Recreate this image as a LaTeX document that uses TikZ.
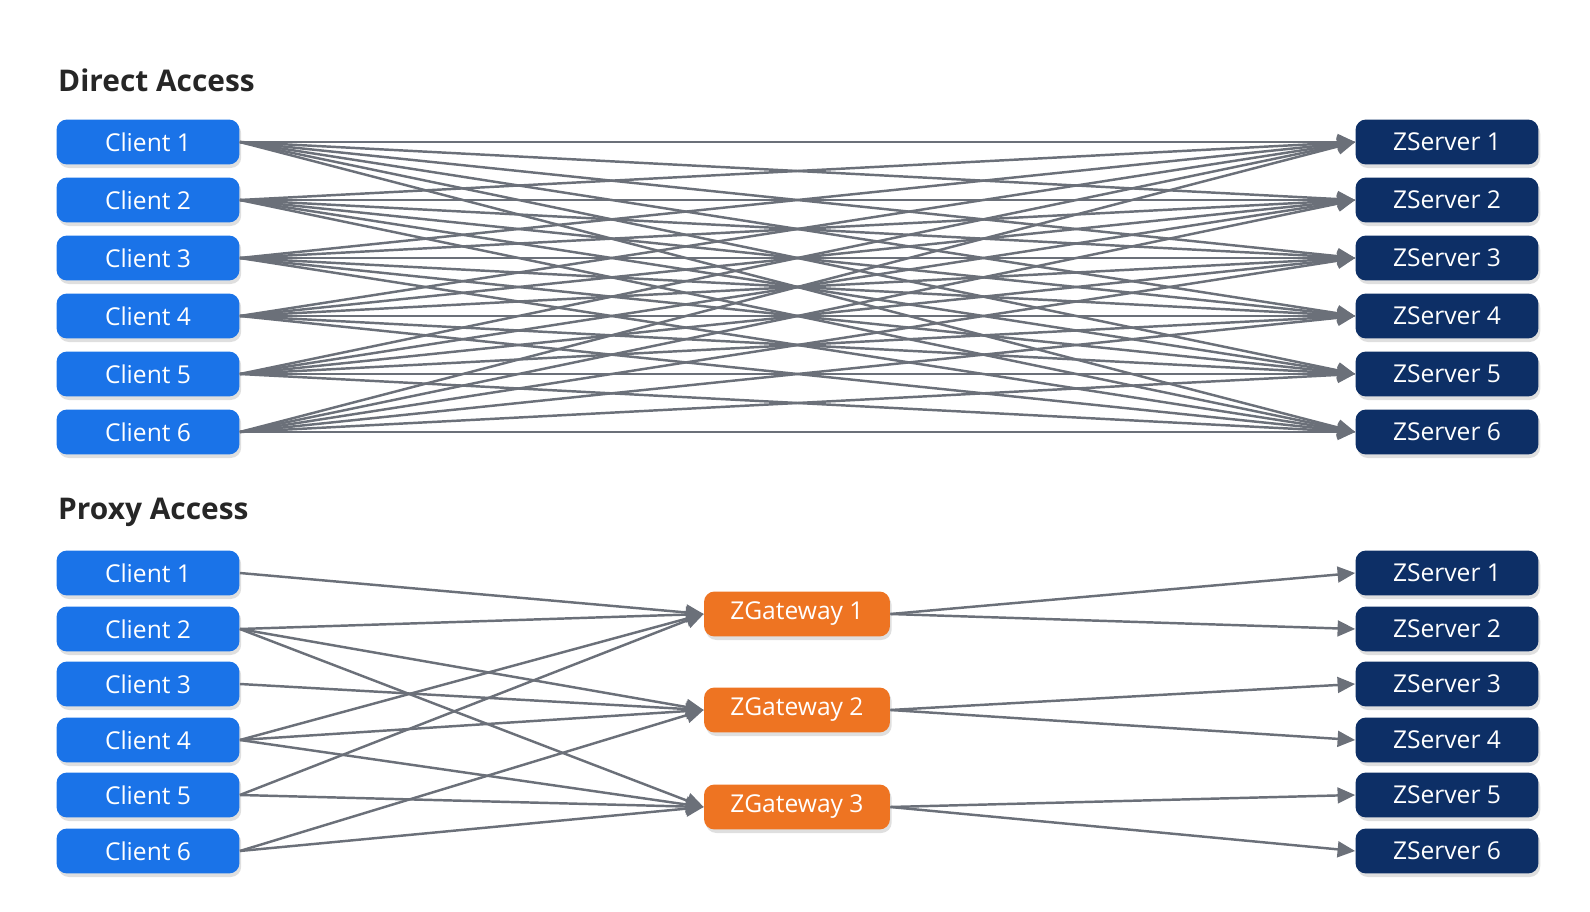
\documentclass[tikz,border=0pt]{standalone}
\usepackage{fontspec}
\setmainfont{Open Sans}
\usetikzlibrary{arrows.meta,shadows}
\definecolor{clientblue}{HTML}{1A73E8}
\definecolor{servernavy}{HTML}{0D2F66}
\definecolor{gateorange}{HTML}{EE7422}
\definecolor{linkgray}{HTML}{6B7079}
\tikzset{
  box/.style={rounded corners=6pt,minimum width=3.66cm,minimum height=0.9cm,
    text=white,font=\fontsize{14}{16}\selectfont,drop shadow={opacity=0.25,shadow xshift=1pt,shadow yshift=-2pt}},
  client/.style={box,fill=clientblue},
  server/.style={box,fill=servernavy},
  gate/.style={box,fill=gateorange,minimum width=3.72cm},
  title/.style={anchor=west,font=\fontsize{17}{20}\selectfont\bfseries,text=black!85},
  link/.style={draw=linkgray,line width=1.4pt,-{Triangle[length=10pt,width=9pt]}}
}
\begin{document}
\begin{tikzpicture}[x=0.02cm,y=-0.02cm]
\useasboundingbox (0,0) rectangle (1590,912);
\node[title] (direct) at (52,80) {Direct Access};
\node[title] (proxy) at (52,512) {Proxy Access};
% direct access
\foreach \i/\y in {1/142,2/200,3/258,4/316,5/374,6/432}{
  \node[client] (dc\i) at (148,\y) {Client \i};
  \node[server] (ds\i) at (1447,\y) {ZServer \i};
}
\foreach \i in {1,...,6}
  \foreach \j in {1,...,6}
    \draw[link] (dc\i.east) -- (ds\j.west);
% proxy access
\foreach \i/\y in {1/573,2/629,3/684,4/740,5/795,6/851}{
  \node[client] (pc\i) at (148,\y) {Client \i};
  \node[server] (ps\i) at (1447,\y) {ZServer \i};
}
\foreach \k/\y in {1/614,2/710,3/807}
  \node[gate] (g\k) at (797,\y) {ZGateway \k};
\foreach \i/\k in {1/1,2/1,2/2,2/3,3/2,4/1,4/2,4/3,5/1,5/3,6/2,6/3}
  \draw[link] (pc\i.east) -- (g\k.west);
\foreach \k/\j in {1/1,1/2,2/3,2/4,3/5,3/6}
  \draw[link] (g\k.east) -- (ps\j.west);
\end{tikzpicture}
\end{document}
